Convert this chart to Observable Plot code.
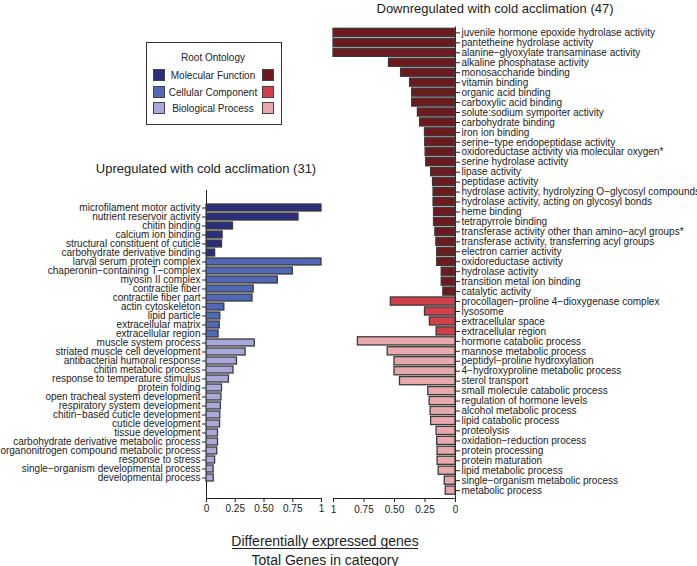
<!DOCTYPE html>
<html>
<head>
<meta charset="utf-8">
<script src="https://cdn.jsdelivr.net/npm/d3@7"></script>
<script src="https://cdn.jsdelivr.net/npm/@observablehq/plot@0.6"></script>
<style>
  html, body { margin: 0; padding: 0; background: #fff; }
  #wrap { position: relative; width: 697px; height: 566px; overflow: hidden; font-family: "Liberation Sans", Arial, sans-serif; color: #222; }
  .abs { position: absolute; }
  .title { font-size: 13px; white-space: nowrap; transform: translate(-50%, -50%); }
  #legend { left: 146px; top: 42px; width: 134px; height: 81px; border: 1.5px solid #333; font-size: 10px; }
  .sw { position: absolute; width: 10px; height: 10px; border: 1px solid #444; }
  .lab { position: absolute; transform: translate(-50%, -50%); white-space: nowrap; }
</style>
</head>
<body>
<div id="wrap"></div>
<script>
// ---------- data ----------
const ontologies = ["Molecular Function", "Cellular Component", "Biological Process"];
const blueColors = ["#2b2e7c", "#5068b6", "#a9a8db"];
const redColors = ["#6d1a1f", "#d2414a", "#e7a9ac"];

const upTerms = [
  "microfilament motor activity", "nutrient reservoir activity", "chitin binding", "calcium ion binding",
  "structural constituent of cuticle", "carbohydrate derivative binding",
  "larval serum protein complex", "chaperonin−containing T−complex", "myosin II complex", "contractile fiber",
  "contractile fiber part", "actin cytoskeleton", "lipid particle", "extracellular matrix", "extracellular region",
  "muscle system process", "striated muscle cell development", "antibacterial humoral response",
  "chitin metabolic process", "response to temperature stimulus", "protein folding",
  "open tracheal system development", "respiratory system development", "chitin−based cuticle development",
  "cuticle development", "tissue development", "carbohydrate derivative metabolic process",
  "organonitrogen compound metabolic process", "response to stress", "single−organism developmental process",
  "developmental process"
];
const upValues = [
  1.0, 0.80, 0.23, 0.14, 0.135, 0.075,
  1.0, 0.75, 0.62, 0.41, 0.40, 0.155, 0.12, 0.115, 0.105,
  0.42, 0.34, 0.265, 0.235, 0.195, 0.135, 0.13, 0.125, 0.12, 0.118, 0.10, 0.10, 0.093, 0.075, 0.062, 0.063
];
const upOntology = [
  ...Array(6).fill("Molecular Function"),
  ...Array(9).fill("Cellular Component"),
  ...Array(16).fill("Biological Process")
];

const downTerms = [
  "juvenile hormone epoxide hydrolase activity", "pantetheine hydrolase activity",
  "alanine−glyoxylate transaminase activity", "alkaline phosphatase activity", "monosaccharide binding",
  "vitamin binding", "organic acid binding", "carboxylic acid binding", "solute:sodium symporter activity",
  "carbohydrate binding", "iron ion binding", "serine−type endopeptidase activity",
  "oxidoreductase activity via molecular oxygen*", "serine hydrolase activity", "lipase activity",
  "peptidase activity", "hydrolase activity, hydrolyzing O−glycosyl compounds",
  "hydrolase activity, acting on glycosyl bonds", "heme binding", "tetrapyrrole binding",
  "transferase activity other than amino−acyl groups*", "transferase activity, transferring acyl groups",
  "electron carrier activity", "oxidoreductase activity", "hydrolase activity", "transition metal ion binding",
  "catalytic activity",
  "procollagen−proline 4−dioxygenase complex", "lysosome", "extracellular space", "extracellular region ",
  "hormone catabolic process", "mannose metabolic process", "peptidyl−proline hydroxylation",
  "4−hydroxyproline metabolic process", "sterol transport", "small molecule catabolic process",
  "regulation of hormone levels", "alcohol metabolic process", "lipid catabolic process", "proteolysis",
  "oxidation−reduction process", "protein processing", "protein maturation", "lipid metabolic process",
  "single−organism metabolic process", "metabolic process"
];
const downValues = [
  1.0, 1.0, 1.0, 0.545, 0.446, 0.372, 0.355, 0.355, 0.308, 0.29, 0.25, 0.248, 0.245, 0.24, 0.20,
  0.184, 0.18, 0.18, 0.176, 0.176, 0.165, 0.157, 0.15, 0.15, 0.113, 0.113, 0.10,
  0.53, 0.25, 0.21, 0.155,
  0.80, 0.556, 0.50, 0.50, 0.455, 0.223, 0.212, 0.204, 0.20, 0.155, 0.15, 0.147, 0.147, 0.138, 0.088, 0.08
];
const downOntology = [
  ...Array(27).fill("Molecular Function"),
  ...Array(4).fill("Cellular Component"),
  ...Array(16).fill("Biological Process")
];

const xTicks = [0, 0.25, 0.5, 0.75, 1];
const fmt = d => (d === 0 ? "0" : d === 1 ? "1" : d.toFixed(2));

// ---------- build ----------
const wrap = document.getElementById("wrap");
const upData = upTerms.map((t, i) => ({term: t, value: upValues[i], ont: upOntology[i]}));
const downData = downTerms.map((t, i) => ({term: t, value: downValues[i], ont: downOntology[i]}));

const commonStyle = {fontFamily: "'Liberation Sans', Arial, sans-serif", fontSize: "10px", background: "none", overflow: "visible", color: "#222"};

const upPlot = Plot.plot({
  width: 331, height: 340,
  marginLeft: 206, marginRight: 10, marginTop: 10, marginBottom: 22,
  style: commonStyle,
  x: {domain: [0, 1], ticks: xTicks, tickFormat: fmt, tickSize: 4, tickPadding: 2, line: true, label: null},
  y: {domain: upTerms, padding: 0.18, insetBottom: 2, tickSize: 4, tickPadding: 2, line: true, label: null},
  color: {domain: ontologies, range: blueColors},
  marks: [
    Plot.barX(upData, {x: "value", y: "term", fill: "ont", stroke: "#3a3a3a", strokeWidth: 1.3})
  ]
});
upPlot.classList.add("abs");
upPlot.style.left = "0px"; upPlot.style.top = "180px";
wrap.appendChild(upPlot);

const downPlot = Plot.plot({
  width: 375, height: 520,
  marginLeft: 11, marginRight: 242, marginTop: 26.5, marginBottom: 22,
  style: commonStyle,
  x: {domain: [0, 1], reverse: true, ticks: xTicks, tickFormat: fmt, tickSize: 4, tickPadding: 3, line: true, label: null},
  y: {domain: downTerms, axis: "right", padding: 0.18, insetBottom: 2, tickSize: 4, tickPadding: 2, line: true, label: null},
  color: {domain: ontologies, range: redColors},
  marks: [
    Plot.barX(downData, {x: "value", y: "term", fill: "ont", stroke: "#3a3a3a", strokeWidth: 1.3})
  ]
});
downPlot.classList.add("abs");
downPlot.style.left = "322px"; downPlot.style.top = "0px";
wrap.appendChild(downPlot);

// titles
function addText(txt, x, y, cls, extra) {
  const d = document.createElement("div");
  d.className = "abs " + cls;
  d.textContent = txt;
  d.style.left = x + "px"; d.style.top = y + "px";
  if (extra) Object.assign(d.style, extra);
  wrap.appendChild(d);
  return d;
}
addText("Upregulated with cold acclimation (31)", 206, 168, "title");
addText("Downregulated with cold acclimation (47)", 495, 8, "title");

// legend
const legend = document.createElement("div");
legend.id = "legend"; legend.className = "abs";
wrap.appendChild(legend);
const lt = document.createElement("div");
lt.className = "lab"; lt.textContent = "Root Ontology";
lt.style.left = "66px"; lt.style.top = "14px";
legend.appendChild(lt);
ontologies.forEach((o, i) => {
  const cy = 32 + i * 16.5;
  const b = document.createElement("div");
  b.className = "sw"; b.style.background = blueColors[i];
  b.style.left = "6px"; b.style.top = (cy - 6) + "px";
  legend.appendChild(b);
  const r = document.createElement("div");
  r.className = "sw"; r.style.background = redColors[i];
  r.style.left = "115px"; r.style.top = (cy - 6) + "px";
  legend.appendChild(r);
  const l = document.createElement("div");
  l.className = "lab"; l.textContent = o;
  l.style.left = "66px"; l.style.top = cy + "px";
  legend.appendChild(l);
});

// axis caption (fraction)
addText("Differentially expressed genes", 325, 541, "title", {fontSize: "14px"});
const bar = document.createElement("div");
bar.className = "abs";
Object.assign(bar.style, {left: "232px", top: "548px", width: "186px", height: "0px", borderTop: "1.3px solid #222"});
wrap.appendChild(bar);
addText("Total Genes in category", 325, 560, "title", {fontSize: "14px"});
</script>
</body>
</html>
